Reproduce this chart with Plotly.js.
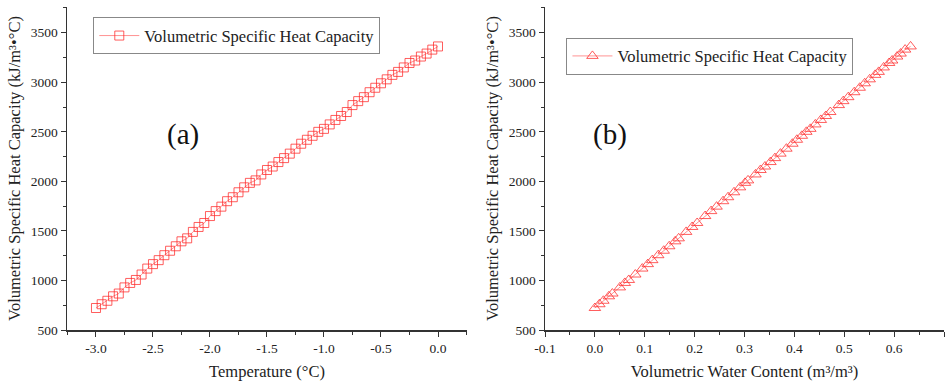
<!DOCTYPE html>
<html>
<head>
<meta charset="utf-8">
<script src="https://cdn.plot.ly/plotly-3.0.1.min.js"></script>
<style>html,body{margin:0;padding:0;background:#fff;}#chart{width:952px;height:385px;}</style>
</head>
<body>
<div id="chart"></div>
<script>
// Temperature (°C)
const temperature = [-3.00,-2.95,-2.90,-2.85,-2.80,-2.75,-2.70,-2.65,-2.60,-2.55,-2.50,-2.45,-2.40,-2.35,-2.30,-2.25,-2.20,-2.15,-2.10,-2.05,-2.00,-1.95,-1.90,-1.85,-1.80,-1.75,-1.70,-1.65,-1.60,-1.55,-1.50,-1.45,-1.40,-1.35,-1.30,-1.25,-1.20,-1.15,-1.10,-1.05,-1.00,-0.95,-0.90,-0.85,-0.80,-0.75,-0.70,-0.65,-0.60,-0.55,-0.50,-0.45,-0.40,-0.35,-0.30,-0.25,-0.20,-0.15,-0.10,-0.05,0.00];
// Volumetric specific heat capacity (kJ/m3·°C)
const heatCapacity = [722,760,795,840,868,930,975,1005,1060,1120,1165,1205,1255,1300,1345,1395,1425,1490,1540,1580,1650,1700,1745,1800,1840,1890,1940,1985,2010,2070,2115,2150,2195,2235,2280,2330,2380,2420,2460,2500,2530,2575,2620,2660,2700,2770,2810,2850,2900,2945,2990,3030,3075,3105,3150,3195,3220,3260,3290,3330,3362];
// Volumetric water content (m3/m3)
const waterContent = [0.000,0.009,0.017,0.028,0.035,0.050,0.060,0.068,0.081,0.095,0.106,0.115,0.127,0.138,0.149,0.161,0.168,0.183,0.195,0.205,0.221,0.233,0.244,0.257,0.267,0.279,0.291,0.301,0.307,0.322,0.332,0.341,0.352,0.361,0.372,0.384,0.396,0.405,0.415,0.424,0.432,0.442,0.453,0.463,0.472,0.489,0.498,0.508,0.520,0.531,0.541,0.551,0.562,0.569,0.579,0.590,0.596,0.606,0.613,0.622,0.633];

// Tick values / labels
const tempTicks = [-3.0,-2.5,-2.0,-1.5,-1.0,-0.5,0.0];
const tempTickLabels = ['-3.0','-2.5','-2.0','-1.5','-1.0','-0.5','0.0'];
const wcTicks = [-0.1,0.0,0.1,0.2,0.3,0.4,0.5,0.6,0.7];
const wcTickLabels = ['-0.1','0.0','0.1','0.2','0.3','0.4','0.5','0.6','0.7'];

const seriesName = 'Volumetric Specific Heat Capacity';
const yTitle = 'Volumetric Specific Heat Capacity (kJ/m³•°C)';

const serif = 'Liberation Serif, Times New Roman, serif';
const markerColor = 'rgba(255,40,40,0.75)';
const lineColor = 'rgba(255,120,120,0.8)';

const traces = [
  {x: temperature, y: heatCapacity, type: 'scatter', mode: 'lines+markers', name: seriesName,
   xaxis: 'x', yaxis: 'y', legend: 'legend',
   line: {color: lineColor, width: 1},
   marker: {symbol: 'square-open', size: 9, color: markerColor, line: {width: 1, color: markerColor}}},
  {x: waterContent, y: heatCapacity, type: 'scatter', mode: 'lines+markers', name: seriesName,
   xaxis: 'x2', yaxis: 'y2', legend: 'legend2',
   line: {color: lineColor, width: 1},
   marker: {symbol: 'triangle-up-open', size: 10, color: markerColor, line: {width: 1, color: markerColor}}}
];

const tickFont = {family: serif, size: 13.5, color: '#222'};
const titleFont = {family: serif, size: 16.5, color: '#222'};

function xAxis(domain, range, tv, tt, minor, title, anchor) {
  return {domain: domain, range: range, tickmode: 'array', tickvals: tv, ticktext: tt,
    showline: true, linecolor: '#333', linewidth: 1.5, mirror: false,
    ticks: 'outside', ticklen: 5, tickwidth: 1, tickcolor: '#333',
    minor: {dtick: minor, tick0: 0, ticks: 'outside', ticklen: 3, tickcolor: '#333'},
    showgrid: false, zeroline: false, tickfont: tickFont, anchor: anchor,
    title: {text: title, font: titleFont, standoff: 10}};
}
function yAxis(anchor) {
  return {domain: [0, 1], range: [500, 3760], dtick: 500, tick0: 0, anchor: anchor,
    showline: true, linecolor: '#333', linewidth: 1.5,
    ticks: 'outside', ticklen: 5, tickwidth: 1, tickcolor: '#333',
    minor: {dtick: 250, ticks: 'outside', ticklen: 3, tickcolor: '#333'},
    showgrid: false, zeroline: false, tickfont: tickFont,
    title: {text: yTitle, font: titleFont, standoff: 6}};
}

const legendStyle = {font: {family: serif, size: 16.5, color: '#222'}, bordercolor: '#888', borderwidth: 1,
  bgcolor: '#fff', xanchor: 'left', yanchor: 'top', itemwidth: 40, tracegroupgap: 0};

const layout = {
  width: 952, height: 385,
  margin: {l: 0, r: 0, t: 7, b: 55},
  paper_bgcolor: '#fff', plot_bgcolor: '#fff',
  showlegend: true,
  xaxis: xAxis([0.0704, 0.4905], [-3.254, 0.254], tempTicks, tempTickLabels, 0.25, 'Temperature (°C)', 'y'),
  yaxis: yAxis('x'),
  xaxis2: xAxis([0.5725, 0.9916], [-0.1, 0.7], wcTicks, wcTickLabels, 0.05, 'Volumetric Water Content (m³/m³)', 'y2'),
  yaxis2: yAxis('x2'),
  legend: Object.assign({x: 0.098, y: 0.968}, legendStyle),
  legend2: Object.assign({x: 0.595, y: 0.905}, legendStyle),
  annotations: [
    {text: '(a)', xref: 'paper', yref: 'paper', x: 0.173, y: 0.605, showarrow: false, font: {family: serif, size: 29, color: '#111'}},
    {text: '(b)', xref: 'paper', yref: 'paper', x: 0.641, y: 0.605, showarrow: false, font: {family: serif, size: 29, color: '#111'}}
  ]
};

Plotly.newPlot('chart', traces, layout, {displayModeBar: false, staticPlot: true});
</script>
</body>
</html>
